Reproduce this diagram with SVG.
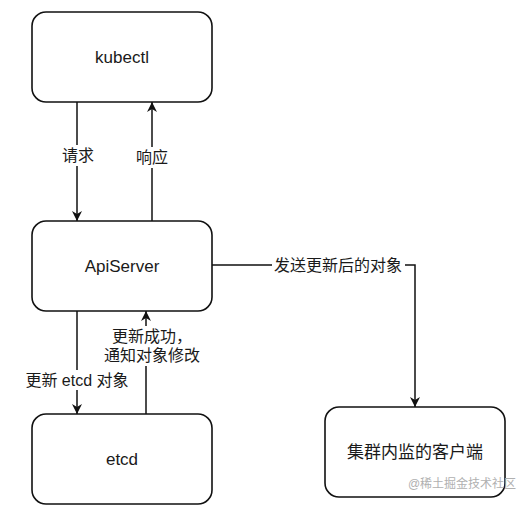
<svg xmlns="http://www.w3.org/2000/svg" width="525" height="509" viewBox="0 0 525 509">
<style>
.node rect{fill:#fff;stroke:#111;stroke-width:1.6}
.nt{font-family:"Liberation Sans","Noto Sans CJK SC",sans-serif;font-size:17px;fill:#1a1a1a;text-anchor:middle;dominant-baseline:central}
.lt{font-family:"Liberation Sans","Noto Sans CJK SC",sans-serif;font-size:16px;fill:#1a1a1a;text-anchor:middle;dominant-baseline:central}
.edge{fill:none;stroke:#111;stroke-width:1.5}
.bg{fill:#fff}
</style>
<defs>
<marker id="arr" viewBox="0 0 10 10" refX="10" refY="5" markerWidth="10" markerHeight="10" markerUnits="userSpaceOnUse" orient="auto">
<path d="M0,0 L10,5 L0,10 L3,5 Z" fill="#111"/>
</marker>
</defs>
<rect width="525" height="509" fill="#fff"/>
<g id="connectors">
<path class="edge" d="M77,102 V221" marker-end="url(#arr)"/>
<path class="edge" d="M152,221 V102" marker-end="url(#arr)"/>
<path class="edge" d="M77,311 V414" marker-end="url(#arr)"/>
<path class="edge" d="M146,414 V311" marker-end="url(#arr)"/>
<path class="edge" d="M212,265 H415 V407" marker-end="url(#arr)"/>
<rect class="bg" x="60" y="145" width="34" height="21"/>
<text class="lt" x="78" y="155">请求</text>
<rect class="bg" x="135" y="147" width="34" height="21"/>
<text class="lt" x="152" y="157">响应</text>
<rect class="bg" x="22" y="370" width="110" height="20"/>
<text class="lt" x="77" y="380">更新 etcd 对象</text>
<rect class="bg" x="102" y="326" width="101" height="40"/>
<text class="lt" x="152" y="336">更新成功，</text>
<text class="lt" x="152" y="355">通知对象修改</text>
<rect class="bg" x="272" y="255" width="133" height="21"/>
<text class="lt" x="338" y="265">发送更新后的对象</text>
</g>
<g id="kubectl" class="node">
<rect x="32" y="12" width="180" height="90" rx="14"/>
<text class="nt" x="122" y="57">kubectl</text>
</g>
<g id="apiserver" class="node">
<rect x="32" y="221" width="180" height="90" rx="14"/>
<text class="nt" x="122" y="266">ApiServer</text>
</g>
<g id="etcd" class="node">
<rect x="32" y="414" width="180" height="90" rx="14"/>
<text class="nt" x="122" y="459">etcd</text>
</g>
<g id="client" class="node">
<rect x="325" y="407" width="180" height="90" rx="14"/>
<text class="nt" x="415" y="452">集群内监的客户端</text>
</g>
<text x="462" y="488" font-family="Liberation Sans,'Noto Sans CJK SC',sans-serif" font-size="12" fill="#b0b0b0" text-anchor="middle">@稀土掘金技术社区</text>
</svg>
